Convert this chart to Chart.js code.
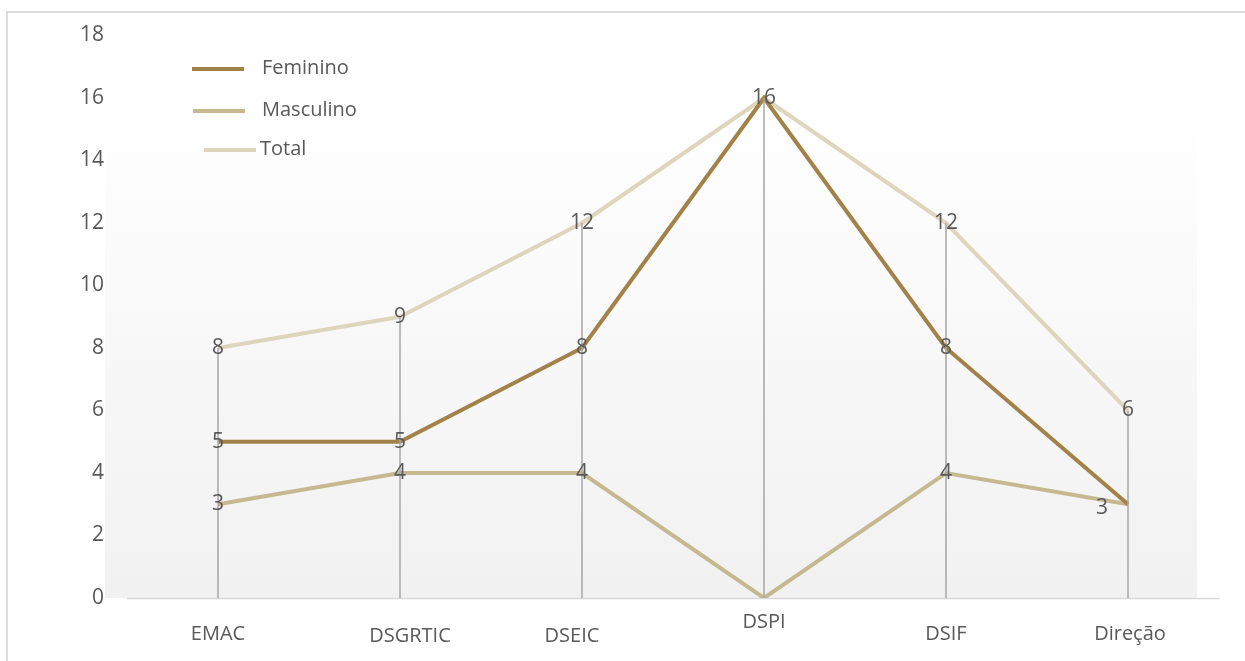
<!DOCTYPE html>
<html>
<head>
<meta charset="utf-8">
<script src="https://cdn.jsdelivr.net/npm/chart.js@4.4.0/dist/chart.umd.min.js"></script>
<style>
  html, body { margin: 0; padding: 0; background: #fff; }
  #wrap { position: relative; width: 1245px; height: 661px; overflow: hidden; }
  #frame { position: absolute; left: 6px; top: 11px; width: 1250px; height: 660px; border: 2px solid #dcdcdc; }
  canvas { position: absolute; left: 0; top: 0; }
</style>
</head>
<body>
<div id="wrap"><div id="frame"></div><canvas id="chart1" width="1245" height="661"></canvas></div>
<script>
// dados
var categories = ['EMAC', 'DSGRTIC', 'DSEIC', 'DSPI', 'DSIF', 'Direção'];
var feminino = [5, 5, 8, 16, 8, 3];
var masculino = [3, 4, 4, 0, 4, 3];
var total = [8, 9, 12, 16, 12, 6];
var yMin = 0, yMax = 18, yStep = 2;

var textColor = '#595959';
var fontFamily = '"Open Sans", "Liberation Sans", sans-serif';

// ajustes de posicao dos rotulos (estilo)
var catDx = [0, 10, -10, 0, 0, 2];
var catDy = [36, 38, 38, 24, 36, 36];
var legendRows = [69, 111, 150];
var legendShift = [0, 1, 12];
var legendTextX = [262, 262, 260];

var bgPlugin = {
    id: 'bgPlugin',
    beforeDatasetsDraw: function (chart) {
        var ctx = chart.ctx, a = chart.chartArea;
        var top = a.top + 62, bottom = a.bottom, left = a.left - 22, right = a.right - 22;
        var g = ctx.createLinearGradient(0, top, 0, bottom);
        g.addColorStop(0, '#ffffff');
        g.addColorStop(1, '#f1f1f1');
        ctx.save();
        ctx.fillStyle = g;
        ctx.fillRect(left, top, right - left, bottom - top);
        // linha do eixo x por cima do fundo
        ctx.strokeStyle = '#d9d9d9';
        ctx.lineWidth = 1.5;
        ctx.beginPath();
        ctx.moveTo(a.left, a.bottom + 0.5);
        ctx.lineTo(a.right, a.bottom + 0.5);
        ctx.stroke();
        ctx.restore();
    }
};

var dropLines = {
    id: 'dropLines',
    afterDatasetsDraw: function (chart) {
        var ctx = chart.ctx;
        var xs = chart.scales.x, ys = chart.scales.y;
        ctx.save();
        ctx.strokeStyle = '#a6a6a6';
        ctx.lineWidth = 1.5;
        for (var i = 0; i < total.length; i++) {
            var x = xs.getPixelForValue(i);
            ctx.beginPath();
            ctx.moveTo(x, ys.getPixelForValue(total[i]));
            ctx.lineTo(x, ys.getPixelForValue(0));
            ctx.stroke();
        }
        ctx.restore();
    }
};

var labelsPlugin = {
    id: 'labelsPlugin',
    afterDraw: function (chart) {
        var ctx = chart.ctx;
        var xs = chart.scales.x, ys = chart.scales.y;
        var last = categories.length - 1;
        ctx.save();
        ctx.font = '21px ' + fontFamily;
        ctx.fillStyle = textColor;
        ctx.textAlign = 'center';
        ctx.textBaseline = 'middle';
        // rotulos de dados
        var series = [total, feminino, masculino];
        for (var i = 0; i < categories.length; i++) {
            var done = [];
            for (var s = 0; s < series.length; s++) {
                var v = series[s][i];
                if (v === 0 || done.indexOf(v) >= 0) continue;
                done.push(v);
                var x = xs.getPixelForValue(i), y = ys.getPixelForValue(v);
                if (i === last && v === masculino[i]) { x -= 26; y += 4; }
                ctx.fillText(String(v), x, y);
            }
        }
        // categorias
        ctx.font = '20px ' + fontFamily;
        for (var j = 0; j < categories.length; j++) {
            ctx.fillText(categories[j], xs.getPixelForValue(j) + catDx[j], chart.chartArea.bottom + catDy[j]);
        }
        // legenda
        var ds = chart.data.datasets;
        ctx.textAlign = 'left';
        for (var k = 0; k < ds.length; k++) {
            var ly = legendRows[k];
            ctx.strokeStyle = ds[k].borderColor;
            ctx.lineWidth = 4;
            ctx.beginPath();
            ctx.moveTo(192 + legendShift[k], ly);
            ctx.lineTo(244 + legendShift[k], ly);
            ctx.stroke();
            ctx.fillText(ds[k].label, legendTextX[k], ly - 1);
        }
        ctx.restore();
    }
};

var ctx1 = document.getElementById('chart1').getContext('2d');
var chart1 = new Chart(ctx1, {
    type: 'line',
    data: {
        labels: categories,
        datasets: [
            { label: 'Feminino', data: feminino, borderColor: '#a3824a', borderWidth: 4, pointRadius: 0, tension: 0 },
            { label: 'Masculino', data: masculino, borderColor: '#c6b992', borderWidth: 4, pointRadius: 0, tension: 0 },
            { label: 'Total', data: total, borderColor: '#ddd6bd', borderWidth: 4, pointRadius: 0, tension: 0 }
        ]
    },
    options: {
        responsive: false,
        animation: false,
        layout: { padding: { top: 35.5, right: 26, left: 0, bottom: 0 } },
        plugins: {
            legend: { display: false },
            tooltip: { enabled: false }
        },
        scales: {
            x: {
                offset: true,
                grid: { display: false },
                border: { display: false },
                ticks: { display: false },
                afterFit: function (scale) { scale.height = 63; }
            },
            y: {
                min: yMin,
                max: yMax,
                grid: { display: false },
                border: { display: false },
                ticks: {
                    stepSize: yStep,
                    padding: 15,
                    color: textColor,
                    font: { family: fontFamily, size: 21 }
                },
                afterFit: function (scale) { scale.width = 127; }
            }
        }
    },
    plugins: [bgPlugin, dropLines, labelsPlugin]
});
</script>
</body>
</html>
